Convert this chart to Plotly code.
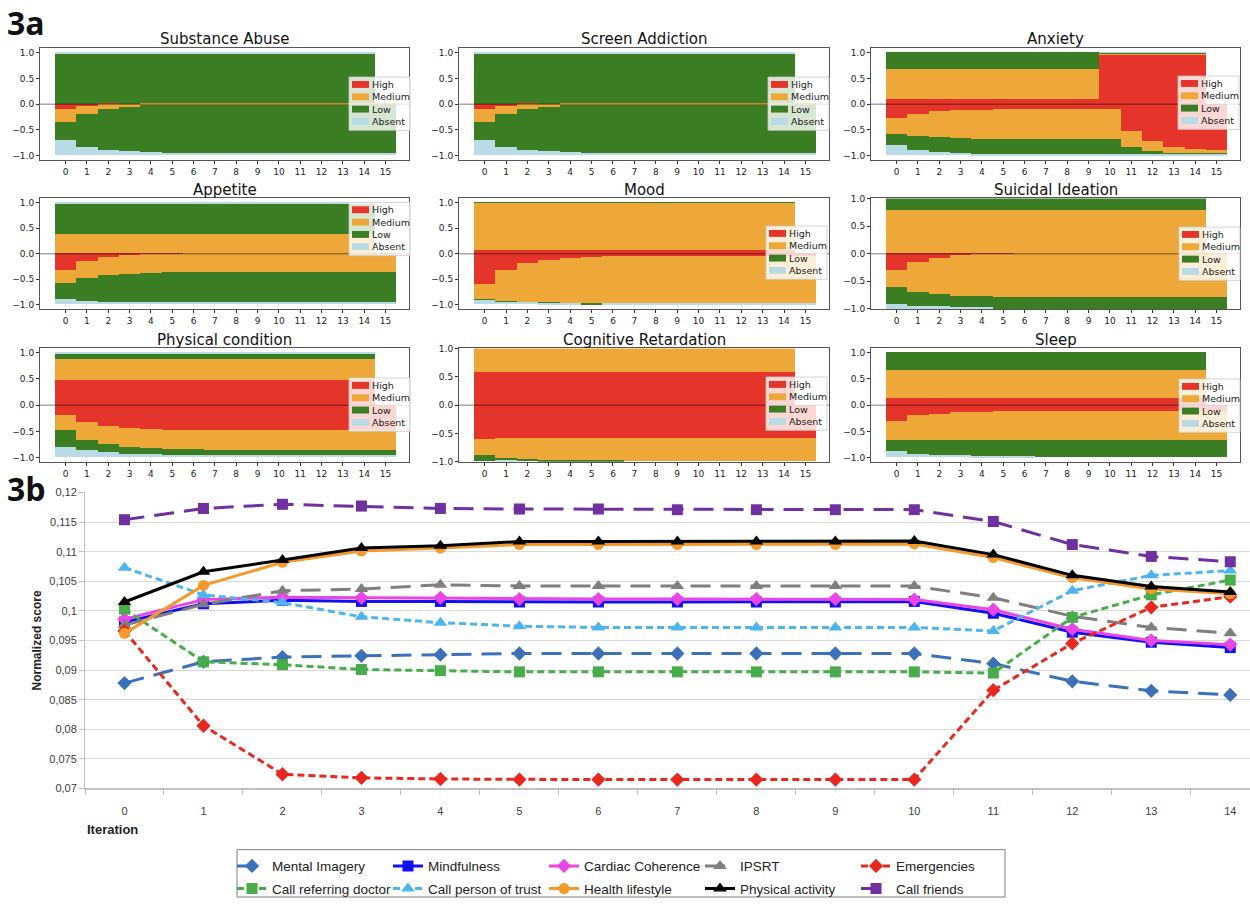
import plotly.graph_objects as go

W, H = 1250, 905

# ---------------- 3a data ----------------
ITER_UP = [0, 1, 2, 3, 4, 5, 6, 7, 8, 9, 10, 11, 12, 13, 14]
ITER_LOW = [0, 1, 2, 3, 4, 5, 6, 7, 8, 9, 10, 11, 12, 13, 14, 15]
LEVELS = ["High", "Medium", "Low", "Absent"]
LEVEL_COLORS = ["#e5342a", "#eea83a", "#3a7d23", "#b9dbe6"]
PANEL_TITLES = ["Substance Abuse", "Screen Addiction", "Anxiety",
                "Appetite", "Mood", "Suicidal Ideation",
                "Physical condition", "Cognitive Retardation", "Sleep"]

# upper stacks (iterations 0-14): High, Medium, Low, Absent
SUBSTANCE_UP = [
    [0, 0, 0, 0, 0, 0, 0, 0, 0, 0, 0, 0, 0, 0, 0],
    [0, 0, 0, 0, 0, 0, 0, 0, 0, 0, 0, 0, 0, 0, 0],
    [0.97, 0.97, 0.97, 0.97, 0.97, 0.97, 0.97, 0.97, 0.97, 0.97, 0.97, 0.97, 0.97, 0.97, 0.97],
    [0.03, 0.03, 0.03, 0.03, 0.03, 0.03, 0.03, 0.03, 0.03, 0.03, 0.03, 0.03, 0.03, 0.03, 0.03],
]
# lower stacks (iterations 0-15): High, Medium, Low, Absent
SUBSTANCE_LOW = [
    [0.10, 0.05, 0.01, 0, 0, 0, 0, 0, 0, 0, 0, 0, 0, 0, 0, 0],
    [0.25, 0.14, 0.09, 0.06, 0.03, 0.02, 0.02, 0.02, 0.02, 0.02, 0.02, 0.02, 0.02, 0.02, 0.02, 0.02],
    [0.35, 0.64, 0.79, 0.86, 0.91, 0.93, 0.93, 0.94, 0.94, 0.94, 0.94, 0.94, 0.94, 0.94, 0.94, 0.94],
    [0.30, 0.17, 0.11, 0.08, 0.06, 0.05, 0.05, 0.04, 0.04, 0.04, 0.04, 0.04, 0.04, 0.04, 0.04, 0.04],
]
SCREEN_UP = [
    [0, 0, 0, 0, 0, 0, 0, 0, 0, 0, 0, 0, 0, 0, 0],
    [0, 0, 0, 0, 0, 0, 0, 0, 0, 0, 0, 0, 0, 0, 0],
    [0.97, 0.97, 0.97, 0.97, 0.97, 0.97, 0.97, 0.97, 0.97, 0.97, 0.97, 0.97, 0.97, 0.97, 0.97],
    [0.03, 0.03, 0.03, 0.03, 0.03, 0.03, 0.03, 0.03, 0.03, 0.03, 0.03, 0.03, 0.03, 0.03, 0.03],
]
SCREEN_LOW = [
    [0.10, 0.05, 0.01, 0, 0, 0, 0, 0, 0, 0, 0, 0, 0, 0, 0, 0],
    [0.25, 0.14, 0.09, 0.06, 0.03, 0.02, 0.02, 0.02, 0.02, 0.02, 0.02, 0.02, 0.02, 0.02, 0.02, 0.02],
    [0.35, 0.64, 0.79, 0.86, 0.91, 0.93, 0.93, 0.94, 0.94, 0.94, 0.94, 0.94, 0.94, 0.94, 0.94, 0.94],
    [0.30, 0.17, 0.11, 0.08, 0.06, 0.05, 0.05, 0.04, 0.04, 0.04, 0.04, 0.04, 0.04, 0.04, 0.04, 0.04],
]
ANXIETY_UP = [
    [0.10, 0.10, 0.10, 0.10, 0.10, 0.10, 0.10, 0.10, 0.10, 0.10, 0.95, 0.95, 0.95, 0.95, 0.95],
    [0.58, 0.58, 0.58, 0.58, 0.58, 0.58, 0.58, 0.58, 0.58, 0.58, 0.03, 0.03, 0.03, 0.03, 0.03],
    [0.32, 0.32, 0.32, 0.32, 0.32, 0.32, 0.32, 0.32, 0.32, 0.32, 0.01, 0.01, 0.01, 0.01, 0.01],
    [0, 0, 0, 0, 0, 0, 0, 0, 0, 0, 0.01, 0.01, 0.01, 0.01, 0.01],
]
ANXIETY_LOW = [
    [0.28, 0.19, 0.15, 0.13, 0.12, 0.11, 0.11, 0.10, 0.10, 0.10, 0.10, 0.52, 0.72, 0.83, 0.88, 0.90],
    [0.30, 0.43, 0.50, 0.53, 0.56, 0.57, 0.57, 0.58, 0.58, 0.58, 0.58, 0.31, 0.19, 0.12, 0.08, 0.07],
    [0.22, 0.27, 0.29, 0.30, 0.30, 0.30, 0.30, 0.30, 0.30, 0.30, 0.30, 0.15, 0.08, 0.04, 0.03, 0.02],
    [0.20, 0.11, 0.06, 0.04, 0.02, 0.02, 0.02, 0.02, 0.02, 0.02, 0.02, 0.02, 0.01, 0.01, 0.01, 0.01],
]
APPETITE_UP = [
    [0, 0, 0, 0, 0, 0, 0, 0, 0, 0, 0, 0, 0, 0, 0],
    [0.37, 0.37, 0.37, 0.37, 0.37, 0.37, 0.37, 0.37, 0.37, 0.37, 0.37, 0.37, 0.37, 0.37, 0.37],
    [0.59, 0.59, 0.59, 0.59, 0.59, 0.59, 0.59, 0.59, 0.59, 0.59, 0.59, 0.59, 0.59, 0.59, 0.59],
    [0.04, 0.04, 0.04, 0.04, 0.04, 0.04, 0.04, 0.04, 0.04, 0.04, 0.04, 0.04, 0.04, 0.04, 0.04],
]
APPETITE_LOW = [
    [0.33, 0.16, 0.08, 0.03, 0.02, 0.01, 0, 0, 0, 0, 0, 0, 0, 0, 0, 0],
    [0.26, 0.32, 0.35, 0.37, 0.37, 0.36, 0.37, 0.37, 0.37, 0.37, 0.37, 0.37, 0.37, 0.37, 0.37, 0.37],
    [0.31, 0.45, 0.52, 0.56, 0.57, 0.59, 0.59, 0.59, 0.59, 0.59, 0.59, 0.59, 0.59, 0.59, 0.59, 0.59],
    [0.10, 0.07, 0.05, 0.04, 0.04, 0.04, 0.04, 0.04, 0.04, 0.04, 0.04, 0.04, 0.04, 0.04, 0.04, 0.04],
]
MOOD_UP = [
    [0.06, 0.06, 0.06, 0.06, 0.06, 0.06, 0.06, 0.06, 0.06, 0.06, 0.06, 0.06, 0.06, 0.06, 0.06],
    [0.93, 0.93, 0.93, 0.93, 0.93, 0.93, 0.93, 0.93, 0.93, 0.93, 0.93, 0.93, 0.93, 0.93, 0.93],
    [0.01, 0.01, 0.01, 0.01, 0.01, 0.01, 0.01, 0.01, 0.01, 0.01, 0.01, 0.01, 0.01, 0.01, 0.01],
    [0, 0, 0, 0, 0, 0, 0, 0, 0, 0, 0, 0, 0, 0, 0],
]
MOOD_LOW = [
    [0.60, 0.33, 0.19, 0.13, 0.09, 0.07, 0.06, 0.06, 0.06, 0.06, 0.06, 0.06, 0.06, 0.06, 0.06, 0.06],
    [0.30, 0.61, 0.77, 0.84, 0.89, 0.91, 0.92, 0.92, 0.92, 0.92, 0.92, 0.92, 0.92, 0.92, 0.92, 0.92],
    [0.01, 0.01, 0.01, 0.01, 0.01, 0.02, 0.01, 0.01, 0.01, 0.01, 0.01, 0.01, 0.01, 0.01, 0.01, 0.01],
    [0.09, 0.05, 0.03, 0.02, 0.01, 0, 0.01, 0.01, 0.01, 0.01, 0.01, 0.01, 0.01, 0.01, 0.01, 0.01],
]
SUICIDAL_UP = [
    [0, 0, 0, 0, 0, 0, 0, 0, 0, 0, 0, 0, 0, 0, 0],
    [0.79, 0.79, 0.79, 0.79, 0.79, 0.79, 0.79, 0.79, 0.79, 0.79, 0.79, 0.79, 0.79, 0.79, 0.79],
    [0.21, 0.21, 0.21, 0.21, 0.21, 0.21, 0.21, 0.21, 0.21, 0.21, 0.21, 0.21, 0.21, 0.21, 0.21],
    [0, 0, 0, 0, 0, 0, 0, 0, 0, 0, 0, 0, 0, 0, 0],
]
SUICIDAL_LOW = [
    [0.30, 0.15, 0.08, 0.04, 0.02, 0.01, 0, 0, 0, 0, 0, 0, 0, 0, 0, 0],
    [0.31, 0.56, 0.66, 0.73, 0.76, 0.78, 0.79, 0.79, 0.79, 0.79, 0.79, 0.79, 0.79, 0.79, 0.79, 0.79],
    [0.31, 0.24, 0.23, 0.21, 0.21, 0.21, 0.21, 0.21, 0.21, 0.21, 0.21, 0.21, 0.21, 0.21, 0.21, 0.21],
    [0.08, 0.05, 0.03, 0.02, 0.01, 0, 0, 0, 0, 0, 0, 0, 0, 0, 0, 0],
]
PHYSICAL_UP = [
    [0.48, 0.48, 0.48, 0.48, 0.48, 0.48, 0.48, 0.48, 0.48, 0.48, 0.48, 0.48, 0.48, 0.48, 0.48],
    [0.40, 0.40, 0.40, 0.40, 0.40, 0.40, 0.40, 0.40, 0.40, 0.40, 0.40, 0.40, 0.40, 0.40, 0.40],
    [0.09, 0.09, 0.09, 0.09, 0.09, 0.09, 0.09, 0.09, 0.09, 0.09, 0.09, 0.09, 0.09, 0.09, 0.09],
    [0.03, 0.03, 0.03, 0.03, 0.03, 0.03, 0.03, 0.03, 0.03, 0.03, 0.03, 0.03, 0.03, 0.03, 0.03],
]
PHYSICAL_LOW = [
    [0.20, 0.33, 0.40, 0.44, 0.46, 0.48, 0.48, 0.48, 0.48, 0.48, 0.48, 0.48, 0.48, 0.48, 0.48, 0.48],
    [0.29, 0.34, 0.35, 0.36, 0.37, 0.37, 0.37, 0.39, 0.39, 0.39, 0.39, 0.39, 0.39, 0.39, 0.39, 0.39],
    [0.31, 0.20, 0.15, 0.13, 0.11, 0.10, 0.10, 0.09, 0.09, 0.09, 0.09, 0.09, 0.09, 0.09, 0.09, 0.09],
    [0.20, 0.13, 0.10, 0.07, 0.06, 0.05, 0.05, 0.04, 0.04, 0.04, 0.04, 0.04, 0.04, 0.04, 0.04, 0.04],
]
COGNITIVE_UP = [
    [0.58, 0.58, 0.58, 0.58, 0.58, 0.58, 0.58, 0.58, 0.58, 0.58, 0.58, 0.58, 0.58, 0.58, 0.58],
    [0.42, 0.42, 0.42, 0.42, 0.42, 0.42, 0.42, 0.42, 0.42, 0.42, 0.42, 0.42, 0.42, 0.42, 0.42],
    [0, 0, 0, 0, 0, 0, 0, 0, 0, 0, 0, 0, 0, 0, 0],
    [0, 0, 0, 0, 0, 0, 0, 0, 0, 0, 0, 0, 0, 0, 0],
]
COGNITIVE_LOW = [
    [0.60, 0.59, 0.59, 0.59, 0.59, 0.59, 0.59, 0.59, 0.59, 0.59, 0.59, 0.59, 0.59, 0.59, 0.59, 0.59],
    [0.28, 0.35, 0.38, 0.39, 0.40, 0.40, 0.40, 0.41, 0.41, 0.41, 0.41, 0.41, 0.41, 0.41, 0.41, 0.41],
    [0.12, 0.05, 0.03, 0.02, 0.01, 0.01, 0.01, 0, 0, 0, 0, 0, 0, 0, 0, 0],
    [0, 0.01, 0, 0, 0, 0, 0, 0, 0, 0, 0, 0, 0, 0, 0, 0],
]
SLEEP_UP = [
    [0.13, 0.13, 0.13, 0.13, 0.13, 0.13, 0.13, 0.13, 0.13, 0.13, 0.13, 0.13, 0.13, 0.13, 0.13],
    [0.54, 0.54, 0.54, 0.54, 0.54, 0.54, 0.54, 0.54, 0.54, 0.54, 0.54, 0.54, 0.54, 0.54, 0.54],
    [0.33, 0.33, 0.33, 0.33, 0.33, 0.33, 0.33, 0.33, 0.33, 0.33, 0.33, 0.33, 0.33, 0.33, 0.33],
    [0, 0, 0, 0, 0, 0, 0, 0, 0, 0, 0, 0, 0, 0, 0],
]
SLEEP_LOW = [
    [0.30, 0.20, 0.17, 0.14, 0.13, 0.12, 0.12, 0.12, 0.12, 0.12, 0.12, 0.12, 0.12, 0.12, 0.12, 0.12],
    [0.38, 0.48, 0.51, 0.54, 0.55, 0.56, 0.56, 0.56, 0.56, 0.56, 0.56, 0.56, 0.56, 0.56, 0.56, 0.56],
    [0.20, 0.26, 0.28, 0.29, 0.30, 0.31, 0.31, 0.32, 0.32, 0.32, 0.32, 0.32, 0.32, 0.32, 0.32, 0.32],
    [0.12, 0.06, 0.04, 0.03, 0.02, 0.01, 0.01, 0, 0, 0, 0, 0, 0, 0, 0, 0],
]

# ---------------- 3b data ----------------
ITERATIONS = [0, 1, 2, 3, 4, 5, 6, 7, 8, 9, 10, 11, 12, 13, 14]
MENTAL_IMAGERY = [0.0878, 0.0914, 0.0922, 0.0924, 0.0926, 0.0928, 0.0928, 0.0928, 0.0928, 0.0928, 0.0928, 0.0911, 0.0881, 0.0865, 0.0858]
MINDFULNESS = [0.0981, 0.1012, 0.1018, 0.1016, 0.1016, 0.1015, 0.1015, 0.1015, 0.1015, 0.1015, 0.1016, 0.0996, 0.0964, 0.0947, 0.0938]
CARDIAC = [0.0986, 0.1019, 0.1023, 0.1022, 0.1022, 0.1020, 0.1020, 0.1020, 0.1020, 0.1020, 0.1019, 0.1002, 0.0969, 0.0950, 0.0943]
IPSRT = [0.0976, 0.1011, 0.1034, 0.1037, 0.1044, 0.1042, 0.1042, 0.1042, 0.1042, 0.1042, 0.1042, 0.1022, 0.0991, 0.0972, 0.0962]
EMERGENCIES = [0.0966, 0.0806, 0.0724, 0.0718, 0.0716, 0.0715, 0.0715, 0.0715, 0.0715, 0.0715, 0.0715, 0.0866, 0.0945, 0.1006, 0.1024]
REF_DOCTOR = [0.1003, 0.0914, 0.0909, 0.0901, 0.0899, 0.0897, 0.0897, 0.0897, 0.0897, 0.0897, 0.0897, 0.0895, 0.0989, 0.1027, 0.1052]
PERSON_TRUST = [0.1073, 0.1027, 0.1014, 0.0990, 0.0980, 0.0974, 0.0972, 0.0972, 0.0972, 0.0972, 0.0972, 0.0966, 0.1034, 0.1060, 0.1068]
HEALTH_LIFESTYLE = [0.0962, 0.1043, 0.1082, 0.1101, 0.1106, 0.1112, 0.1112, 0.1112, 0.1112, 0.1112, 0.1113, 0.1090, 0.1056, 0.1037, 0.1029]
PHYSICAL_ACTIVITY = [0.1015, 0.1066, 0.1086, 0.1106, 0.1110, 0.1117, 0.1117, 0.1117, 0.1117, 0.1117, 0.1118, 0.1095, 0.1060, 0.1041, 0.1032]
CALL_FRIENDS = [0.1154, 0.1173, 0.1180, 0.1177, 0.1173, 0.1172, 0.1172, 0.1171, 0.1171, 0.1171, 0.1171, 0.1151, 0.1112, 0.1092, 0.1083]

Y_TICKS = [0.07, 0.075, 0.08, 0.085, 0.09, 0.095, 0.1, 0.105, 0.11, 0.115, 0.12]
Y_TICK_TEXT = ["0,07", "0,075", "0,08", "0,085", "0,09", "0,095", "0,1", "0,105", "0,11", "0,115", "0,12"]

PANEL_UP = [SUBSTANCE_UP, SCREEN_UP, ANXIETY_UP, APPETITE_UP, MOOD_UP, SUICIDAL_UP,
            PHYSICAL_UP, COGNITIVE_UP, SLEEP_UP]
PANEL_LOW = [SUBSTANCE_LOW, SCREEN_LOW, ANXIETY_LOW, APPETITE_LOW, MOOD_LOW, SUICIDAL_LOW,
             PHYSICAL_LOW, COGNITIVE_LOW, SLEEP_LOW]

# ---------------- layout geometry (pixels) ----------------
COLS_PX = [(40, 409), (459, 829), (871, 1240)]
ROWS_PX = [(43, 156), (195, 307), (347, 462)]
TITLE_Y_PX = [33, 186, 338]
PANEL_YRANGE = [1.08, 1.08, 1.08, 1.08, 1.08, 1.0, 1.08, 1.0, 1.08]
LEGEND_POS_PX = [(410, 72), (829, 72), (1239, 71), (410, 199), (827, 223), (1240, 224),
                 (410, 377), (827, 376), (1240, 378)]


def px_x(p):
    return p / W


def px_y(p):
    return 1 - p / H


fig = go.Figure()
layout = dict(width=W, height=H, margin=dict(l=0, r=0, t=0, b=0),
              paper_bgcolor="white", plot_bgcolor="white",
              barmode="relative", bargap=0, showlegend=True)
shapes = []
annotations = []

TOP_FONT = "DejaVu Sans"

for i in range(9):
    r, c = divmod(i, 3)
    n = i + 1
    xa = "x" if n == 1 else f"x{n}"
    ya = "y" if n == 1 else f"y{n}"
    for k in range(4):
        fig.add_trace(go.Bar(x=ITER_UP, y=PANEL_UP[i][k], width=1,
                             marker=dict(color=LEVEL_COLORS[k], line=dict(width=0)),
                             name=LEVELS[k], showlegend=False, xaxis=xa, yaxis=ya))
    for k in range(4):
        fig.add_trace(go.Bar(x=ITER_LOW, y=[-v for v in PANEL_LOW[i][k]], width=1,
                             marker=dict(color=LEVEL_COLORS[k], line=dict(width=0)),
                             name=LEVELS[k], showlegend=False, xaxis=xa, yaxis=ya))
    x0, x1 = COLS_PX[c]
    y0, y1 = ROWS_PX[r]
    yr = PANEL_YRANGE[i]
    key = "" if n == 1 else str(n)
    layout["xaxis" + key] = dict(domain=[px_x(x0), px_x(x1)], anchor=ya, range=[-1.2, 16.1],
                                 tickmode="array", tickvals=ITER_LOW,
                                 ticktext=[str(v) for v in ITER_LOW],
                                 ticks="outside", ticklen=3, tickcolor="#333",
                                 showline=True, linecolor="#555", linewidth=1, mirror=True,
                                 showgrid=False, zeroline=False,
                                 tickfont=dict(family=TOP_FONT, size=9, color="#222"))
    layout["yaxis" + key] = dict(domain=[px_y(y1), px_y(y0)], anchor=xa, range=[-yr, yr],
                                 tickmode="array", tickvals=[-1, -0.5, 0, 0.5, 1],
                                 ticktext=["\u22121.0", "\u22120.5", "0.0", "0.5", "1.0"],
                                 ticks="outside", ticklen=3, tickcolor="#333",
                                 showline=True, linecolor="#555", linewidth=1, mirror=True,
                                 showgrid=False, zeroline=False,
                                 tickfont=dict(family=TOP_FONT, size=9, color="#222"))
    # zero line
    shapes.append(dict(type="line", xref=f"{xa} domain", yref=ya, x0=0, x1=1, y0=0, y1=0,
                       line=dict(color="rgba(0,0,0,0.35)", width=1.5), layer="above"))
    # panel title
    annotations.append(dict(text=PANEL_TITLES[i], xref="paper", yref="paper",
                            x=px_x((x0 + x1) / 2), y=px_y(TITLE_Y_PX[r]),
                            xanchor="center", yanchor="middle", showarrow=False,
                            font=dict(family=TOP_FONT, size=15, color="#111")))
    # panel legend (matplotlib-style box)
    lr, lt = LEGEND_POS_PX[i]
    lw, lh = 61, 54
    ll = lr - lw
    shapes.append(dict(type="rect", xref="paper", yref="paper",
                       x0=px_x(ll), x1=px_x(lr), y0=px_y(lt + lh), y1=px_y(lt),
                       fillcolor="rgba(255,255,255,0.8)",
                       line=dict(color="rgba(200,200,200,0.8)", width=1), layer="above"))
    for k in range(4):
        cy = lt + 7.5 + k * 12.5
        shapes.append(dict(type="rect", xref="paper", yref="paper",
                           x0=px_x(ll + 3), x1=px_x(ll + 20), y0=px_y(cy + 3.5), y1=px_y(cy - 3.5),
                           fillcolor=LEVEL_COLORS[k], line=dict(width=0), layer="above"))
        annotations.append(dict(text=LEVELS[k], xref="paper", yref="paper",
                                x=px_x(ll + 21), y=px_y(cy), xanchor="left", yanchor="middle",
                                showarrow=False,
                                font=dict(family=TOP_FONT, size=9.5, color="#222")))

# ---------------- 3b line chart ----------------
SERIES = [
    ("Mental Imagery", MENTAL_IMAGERY, "#3c70b8", "20px,10px", "diamond"),
    ("Mindfulness", MINDFULNESS, "#1010f0", "solid", "square"),
    ("Cardiac Coherence", CARDIAC, "#ea45e6", "solid", "diamond"),
    ("IPSRT", IPSRT, "#7f7f7f", "20px,10px", "triangle-up"),
    ("Emergencies", EMERGENCIES, "#e8281f", "7px,4px", "diamond"),
    ("Call referring doctor", REF_DOCTOR, "#46ad4a", "7px,4px", "square"),
    ("Call person of trust", PERSON_TRUST, "#4cb4ee", "7px,4px", "triangle-up"),
    ("Health lifestyle", HEALTH_LIFESTYLE, "#f39a2b", "solid", "circle"),
    ("Physical activity", PHYSICAL_ACTIVITY, "#000000", "solid", "triangle-up"),
    ("Call friends", CALL_FRIENDS, "#7030a0", "20px,10px", "square"),
]
for j, (name, vals, color, dash, sym) in enumerate(SERIES):
    fig.add_trace(go.Scatter(x=ITERATIONS, y=vals, name=name, mode="lines+markers",
                             line=dict(color=color, width=3, dash=dash),
                             marker=dict(symbol=sym, size=11 if sym != "triangle-up" else 12,
                                         color=color),
                             xaxis="x10", yaxis="y10",
                             legend="legend10" if j < 5 else "legend11"))

BOT_FONT = "Liberation Sans Narrow, Liberation Sans, Arial"
layout["xaxis10"] = dict(domain=[px_x(85), 1.0], anchor="y10", range=[-0.5, 14.25],
                         tickmode="linear", tick0=0, dtick=1, ticks="",
                         ticklabelstandoff=12,
                         showline=True, linecolor="#bfbfbf", linewidth=1.5,
                         showgrid=False, zeroline=False,
                         minor=dict(ticks="outside", ticklen=5, tickcolor="#bfbfbf",
                                    tickmode="linear", tick0=0.5, dtick=1, showgrid=False),
                         tickfont=dict(family=BOT_FONT, size=11, color="#404040"))
layout["yaxis10"] = dict(domain=[px_y(793), px_y(493)], anchor="x10", range=[0.07, 0.12],
                         tickmode="array", tickvals=Y_TICKS, ticktext=Y_TICK_TEXT,
                         ticks="outside", ticklen=5, tickcolor="#bfbfbf",
                         showline=True, linecolor="#bfbfbf", linewidth=1,
                         showgrid=True, gridcolor="#d9d9d9", gridwidth=1.2, zeroline=False,
                         tickfont=dict(family=BOT_FONT, size=11, color="#404040"))

leg_common = dict(orientation="h", xanchor="left", yanchor="top", entrywidth=111,
                  entrywidthmode="pixels", bgcolor="rgba(0,0,0,0)", borderwidth=0,
                  font=dict(family=BOT_FONT, size=13.5, color="#222"), traceorder="normal")
layout["legend10"] = dict(leg_common, x=px_x(232), y=px_y(856))
layout["legend11"] = dict(leg_common, x=px_x(232), y=px_y(879))
shapes.append(dict(type="rect", xref="paper", yref="paper", x0=px_x(237), x1=px_x(1005),
                   y0=px_y(903), y1=px_y(855), line=dict(color="#7f7f7f", width=1),
                   fillcolor="rgba(0,0,0,0)", layer="below"))

annotations += [
    dict(text="<b>3a</b>", xref="paper", yref="paper", x=px_x(5), y=px_y(17),
         xanchor="left", yanchor="middle", showarrow=False,
         font=dict(family="Open Sans, Liberation Sans", size=32, color="#111")),
    dict(text="<b>3b</b>", xref="paper", yref="paper", x=px_x(5), y=px_y(489),
         xanchor="left", yanchor="middle", showarrow=False,
         font=dict(family="Open Sans, Liberation Sans", size=32, color="#111")),
    dict(text="<b>Normalized score</b>", xref="paper", yref="paper", x=px_x(37), y=px_y(643),
         xanchor="center", yanchor="middle", textangle=-90, showarrow=False,
         font=dict(family=BOT_FONT, size=12, color="#222")),
    dict(text="<b>Iteration</b>", xref="paper", yref="paper", x=px_x(113), y=px_y(835),
         xanchor="center", yanchor="middle", showarrow=False,
         font=dict(family=BOT_FONT, size=13, color="#222")),
]

layout["shapes"] = shapes
layout["annotations"] = annotations
fig.update_layout(**layout)
fig.write_html("out.html", config={"displayModeBar": False},
               post_script="document.body.style.margin='0px';document.body.style.overflow='hidden';")
